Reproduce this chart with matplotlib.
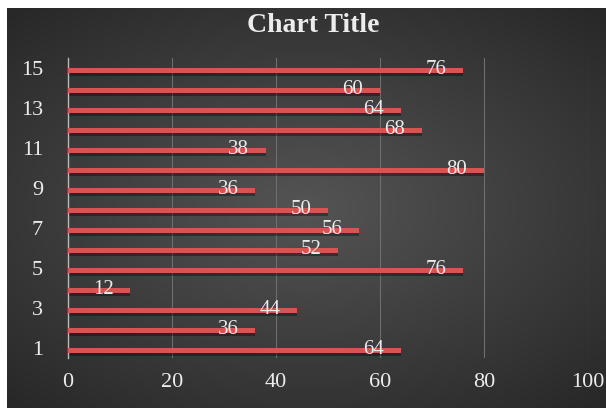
import matplotlib
matplotlib.use("Agg")
import matplotlib.pyplot as plt
import numpy as np

CATEGORIES = list(range(1, 16))
VALUES = [64, 36, 44, 12, 76, 52, 56, 50, 36, 80, 38, 68, 64, 60, 76]
X_TICKS = [0, 20, 40, 60, 80, 100]
Y_TICKS = [1, 3, 5, 7, 9, 11, 13, 15]
TITLE = "Chart Title"

BAR_COLOR = "#d85450"
TEXT_COLOR = "#ececec"

plt.rcParams["font.family"] = ["Liberation Serif", "DejaVu Serif"]

W, H = 606, 408
fig = plt.figure(figsize=(W / 100, H / 100), dpi=100)
fig.patch.set_facecolor("white")

# dark radial background panel
bg = fig.add_axes([7 / W, 0, (W - 7) / W, (H - 8) / H], zorder=-2)
yy, xx = np.mgrid[-1:1:300j, -1:1:400j]
r = np.sqrt((xx * 0.9) ** 2 + (yy * 1.0) ** 2)
shade = np.clip(1 - r / 1.3, 0, 1)
grey = 0.16 + 0.17 * shade
img = np.dstack([grey, grey, grey])
bg.imshow(img, aspect="auto", extent=[0, 1, 0, 1], interpolation="bilinear")
bg.set_axis_off()

ax = fig.add_axes([68 / W, (H - 358) / H, 520 / W, 300 / H])
ax.set_facecolor("none")

y = np.array(CATEGORIES, dtype=float) - 0.13
# soft shadow under each bar
ax.barh(y - 0.17, VALUES, height=0.22, color="black", alpha=0.35, zorder=2)
ax.barh(y, VALUES, height=0.22, color=BAR_COLOR, zorder=3)

for yi, v in zip(y, VALUES):
    ax.text(v - 5.2, yi + 0.05, str(v), ha="center", va="center",
            color=TEXT_COLOR, fontsize=15, zorder=4)

ax.set_xlim(0, 100)
ax.set_ylim(0.5, 15.5)
ax.set_xticks(X_TICKS)
ax.set_yticks(Y_TICKS)
ax.grid(axis="x", color="#6e6e6e", linewidth=0.8, zorder=1)
ax.set_axisbelow(True)

for side in ["top", "right", "bottom"]:
    ax.spines[side].set_visible(False)
ax.spines["left"].set_color("#b8b8b8")
ax.spines["left"].set_linewidth(1.0)

ax.tick_params(axis="both", length=0, colors=TEXT_COLOR, labelsize=16)
ax.tick_params(axis="x", pad=11)
ax.tick_params(axis="y", pad=18)

fig.text(313 / W, 1 - 25 / H, TITLE, ha="center", va="center",
         fontsize=20, fontweight="bold", color=TEXT_COLOR)

fig.savefig("out.png", dpi=100)
